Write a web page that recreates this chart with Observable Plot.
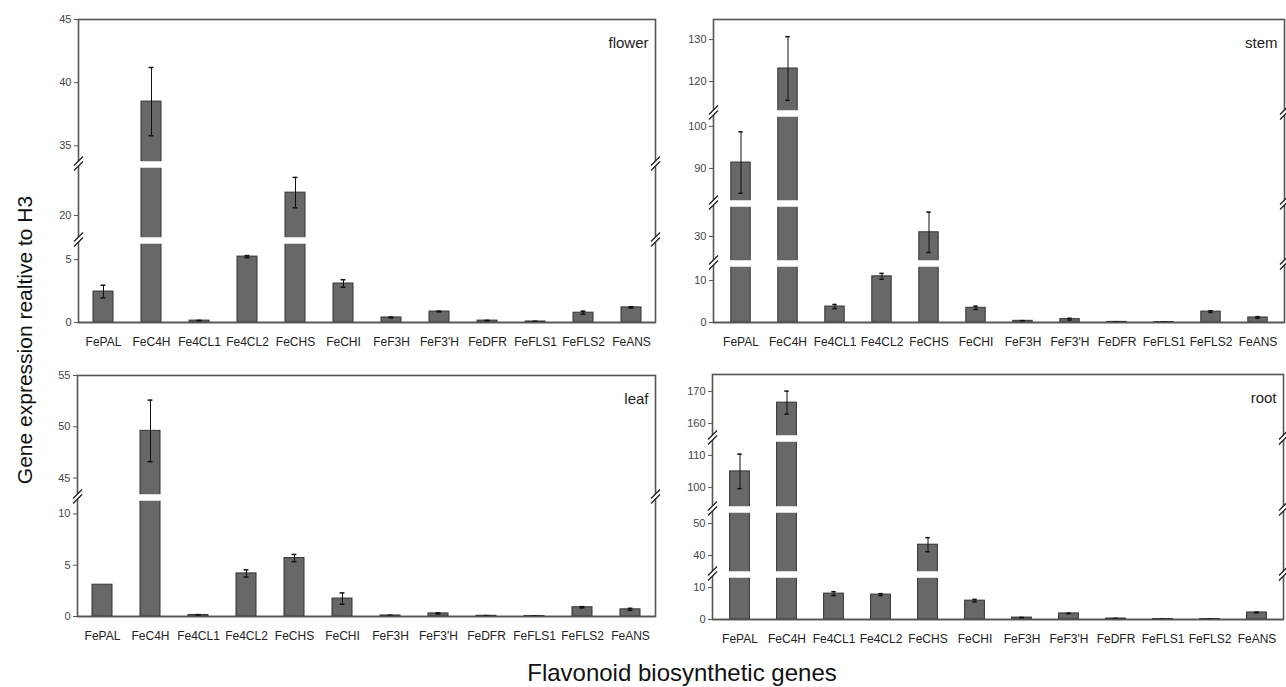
<!DOCTYPE html>
<html><head><meta charset="utf-8">
<script src="https://cdn.jsdelivr.net/npm/d3@7"></script>
<script src="https://cdn.jsdelivr.net/npm/@observablehq/plot@0.6"></script>
<style>
html,body{margin:0;padding:0;background:#fff;}
#wrap{position:relative;width:1286px;height:687px;overflow:hidden;font-family:"Liberation Sans",Arial,sans-serif;}
.panel{position:absolute;}
.panel svg{overflow:visible;}
#ytitle{position:absolute;left:25px;top:340px;transform:translate(-50%,-50%) rotate(-90deg);font-size:21px;white-space:nowrap;color:#111;}
#xtitle{position:absolute;left:682px;top:673px;transform:translate(-50%,-50%);font-size:24px;white-space:nowrap;color:#111;}
</style></head>
<body><div id="wrap">
<div id="ytitle">Gene expression realtive to H3</div>
<div id="xtitle">Flavonoid biosynthetic genes</div>
</div>
<script>
// ---- data ----
const genes = ["FePAL","FeC4H","Fe4CL1","Fe4CL2","FeCHS","FeCHI","FeF3H","FeF3'H","FeDFR","FeFLS1","FeFLS2","FeANS"];

const flowerMean = [2.46, 38.5, 0.15, 5.24, 21.8, 3.1, 0.4, 0.87, 0.15, 0.08, 0.78, 1.2];
const flowerSE   = [0.5, 2.7, 0.02, 0.08, 1.2, 0.3, 0.03, 0.03, 0.02, 0.02, 0.12, 0.05];
const flowerTicks = [0, 5, 20, 35, 40, 45];

const stemMean = [91.4, 123.1, 3.8, 11.0, 31.0, 3.5, 0.4, 0.8, 0.15, 0.1, 2.6, 1.2];
const stemSE   = [7.3, 7.6, 0.5, 0.7, 4.8, 0.4, 0.05, 0.2, 0.02, 0.02, 0.2, 0.2];
const stemTicks = [0, 10, 30, 90, 100, 120, 130];

const leafMean = [3.1, 49.6, 0.15, 4.2, 5.7, 1.75, 0.1, 0.3, 0.07, 0.05, 0.9, 0.7];
const leafSE   = [0, 3.0, 0.03, 0.35, 0.35, 0.55, 0.02, 0.05, 0.02, 0.01, 0.06, 0.1];
const leafTicks = [0, 5, 10, 45, 50, 55];

const rootMean = [105, 166.5, 8.1, 7.8, 43.4, 5.9, 0.6, 1.9, 0.3, 0.15, 0.15, 2.2];
const rootSE   = [5.4, 3.6, 0.6, 0.3, 2.2, 0.4, 0.05, 0.1, 0.03, 0.02, 0.02, 0.1];
const rootTicks = [0, 10, 40, 50, 100, 110, 160, 170];

// broken-axis segments (value range of each visible segment, bottom to top)
const flowerSegments = [[0, 6.6], [18.1, 24.1], [33.6, 45]];
const stemSegments   = [[0, 14.3], [23.8, 38.1], [81.9, 103.3], [112.6, 134.8]];
const leafSegments   = [[0, 11.7], [43.2, 55]];
const rootSegments   = [[0, 14.4], [34.4, 54.7], [93.4, 115.6], [155.6, 175.3]];

// ---- layout (segment boundaries as svg y) ----
const panels = [
  {name: "flower", mean: flowerMean, se: flowerSE, ticks: flowerTicks, seg: flowerSegments,
   left: 30, top: 0, width: 640, height: 360, mL: 48, mR: 15, mT: 19, mB: 38,
   px: [322, 239, 163, 19], inset: 14},
  {name: "stem", mean: stemMean, se: stemSE, ticks: stemTicks, seg: stemSegments,
   left: 670, top: 0, width: 616, height: 360, mL: 43, mR: 2, mT: 19, mB: 38,
   px: [322, 262, 202, 112, 19], inset: 13.8},
  {name: "leaf", mean: leafMean, se: leafSE, ticks: leafTicks, seg: leafSegments,
   left: 30, top: 355, width: 640, height: 300, mL: 47, mR: 15, mT: 20, mB: 39,
   px: [261, 141, 20], inset: 14},
  {name: "root", mean: rootMean, se: rootSE, ticks: rootTicks, seg: rootSegments,
   left: 670, top: 355, width: 616, height: 300, mL: 42, mR: 3, mT: 19, mB: 36,
   px: [264, 218, 153, 82, 19], inset: 13.6}
];

const font = '"Liberation Sans",Arial,sans-serif';

// symbols for the "//" break marks
const breakFill = {draw(ctx) { ctx.moveTo(-4.5, 7); ctx.lineTo(4.5, -2); ctx.lineTo(4.5, -7); ctx.lineTo(-4.5, 2); ctx.closePath(); }};
const breakLines = {draw(ctx) { ctx.moveTo(-4.5, 7); ctx.lineTo(4.5, -2); ctx.moveTo(-4.5, 2); ctx.lineTo(4.5, -7); }};

for (const p of panels) {
  const rows = genes.map((g, i) => ({gene: g, v: p.mean[i], se: p.se[i]}));
  const base = p.px[0];
  const dom = [], rng = [];
  p.seg.forEach((s, k) => { dom.push(s[0], s[1]); rng.push(base - p.px[k], base - p.px[k + 1]); });
  const brokenAxis = d3.scaleLinear().domain(dom).range(rng); // value -> height above baseline
  const H = base - p.px[p.px.length - 1];
  const breaks = p.seg.slice(0, -1).map(s => s[1]);
  const gaps = [];
  breaks.forEach((b, k) => rows.forEach(r => { if (r.v > p.seg[k + 1][0]) gaps.push({gene: r.gene, b}); }));
  const errs = rows.filter(r => r.se > 0);
  const step = (p.width - p.mL - p.mR) / genes.length;
  const capInset = (step - 5) / 2;

  const chart = Plot.plot({
    width: p.width, height: p.height,
    marginLeft: p.mL, marginRight: p.mR, marginTop: p.mT, marginBottom: p.mB,
    style: {fontFamily: font, overflow: "visible", background: "transparent"},
    x: {domain: genes, padding: 0, label: null},
    y: {transform: brokenAxis, domain: [0, H], label: null},
    marks: [
      Plot.frame({stroke: "#555", strokeWidth: 1.6}),
      Plot.barY(rows, {x: "gene", y1: 0, y2: "v", fill: "#686868", stroke: "#333", strokeWidth: 1,
        insetLeft: p.inset, insetRight: p.inset}),
      Plot.tickY(gaps, {x: "gene", y: "b", stroke: "white", strokeWidth: 6.5, dy: 1,
        insetLeft: p.inset - 2, insetRight: p.inset - 2}),
      Plot.ruleX(errs, {x: "gene", y1: d => d.v - d.se, y2: d => d.v + d.se, stroke: "#111", strokeWidth: 1}),
      Plot.tickY(errs, {x: "gene", y: d => d.v + d.se, stroke: "#111", strokeWidth: 1.5, insetLeft: capInset, insetRight: capInset}),
      Plot.tickY(errs, {x: "gene", y: d => d.v - d.se, stroke: "#111", strokeWidth: 1.5, insetLeft: capInset, insetRight: capInset}),
      Plot.ruleY([0], {stroke: "#555", strokeWidth: 1.6}),
      Plot.dot(breaks, {y: d => d, frameAnchor: "left", symbol: breakFill, fill: "white", stroke: "none"}),
      Plot.dot(breaks, {y: d => d, frameAnchor: "left", symbol: breakLines, fill: "none", stroke: "#222", strokeWidth: 1.3}),
      Plot.dot(breaks, {y: d => d, frameAnchor: "right", symbol: breakFill, fill: "white", stroke: "none"}),
      Plot.dot(breaks, {y: d => d, frameAnchor: "right", symbol: breakLines, fill: "none", stroke: "#222", strokeWidth: 1.3}),
      Plot.axisY(p.ticks, {tickSize: 4, tickPadding: 3, fontSize: 11, color: "#444", stroke: "#555", label: null}),
      Plot.axisX({tickSize: 0, tickPadding: 15, fontSize: 12, color: "#222", label: null}),
      Plot.text([p.name], {text: d => d, frameAnchor: "top-right", dx: -7, dy: 18, fontSize: 15, fill: "#222", textAnchor: "end"})
    ]
  });
  const div = document.createElement("div");
  div.className = "panel";
  div.style.left = p.left + "px";
  div.style.top = p.top + "px";
  div.appendChild(chart);
  document.getElementById("wrap").appendChild(div);
}
</script>
</body></html>
